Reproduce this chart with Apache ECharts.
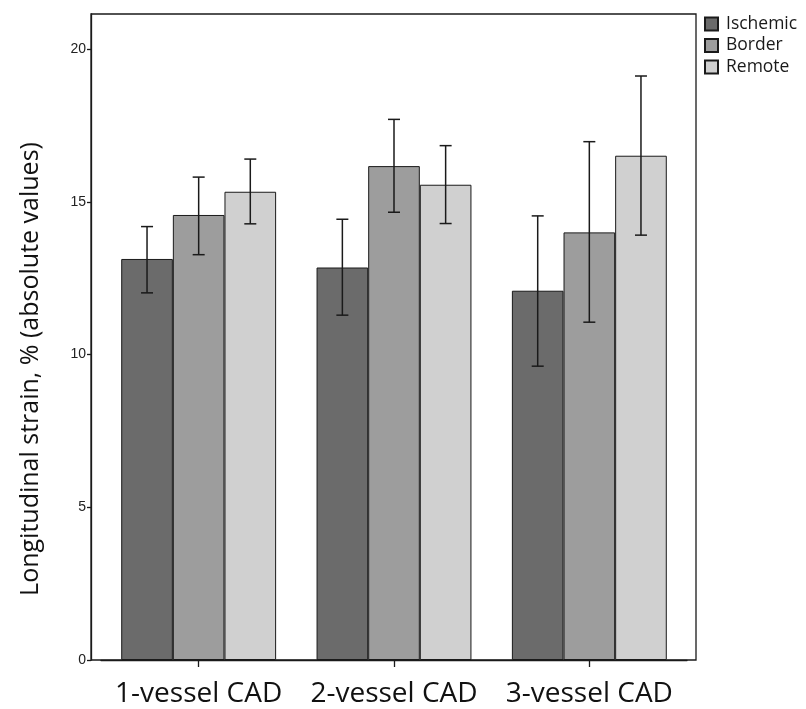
<!DOCTYPE html>
<html>
<head>
<meta charset="utf-8">
<script src="https://cdn.jsdelivr.net/npm/echarts@6/dist/echarts.min.js"></script>
<style>html,body{margin:0;padding:0;background:#fff;}#c{width:806px;height:709px;}</style>
</head>
<body>
<div id="c"></div>
<script>
var categories = ['1-vessel CAD', '2-vessel CAD', '3-vessel CAD'];
var seriesNames = ['Ischemic', 'Border', 'Remote'];
var ischemic = [13.13, 12.85, 12.09];
var border = [14.57, 16.17, 14.00];
var remote = [15.33, 15.56, 16.51];
var ischemicLow = [12.02, 11.29, 9.62];
var ischemicHigh = [14.19, 14.43, 14.54];
var borderLow = [13.27, 14.66, 11.06];
var borderHigh = [15.81, 17.70, 16.97];
var remoteLow = [14.28, 14.29, 13.91];
var remoteHigh = [16.40, 16.84, 19.12];
var yTicks = [0, 5, 10, 15, 20];
var yTitle = 'Longitudinal strain, % (absolute values)';

var colors = ['#6b6b6b', '#9d9d9d', '#d0d0d0'];
var values = [ischemic, border, remote];
var lows = [ischemicLow, borderLow, remoteLow];
var highs = [ischemicHigh, borderHigh, remoteHigh];
var gapRatio = 0.207;

var chart = echarts.init(document.getElementById('c'));
var series = [];
seriesNames.forEach(function (name, i) {
  series.push({
    name: name,
    type: 'bar',
    xAxisIndex: 1,
    yAxisIndex: 1,
    data: values[i],
    barGap: '0%',
    barCategoryGap: (gapRatio * 100) + '%',
    itemStyle: { color: colors[i], borderColor: '#1a1a1a', borderWidth: 1 },
    z: 2
  });
});
seriesNames.forEach(function (name, i) {
  series.push({
    type: 'custom',
    name: name + ' err',
    xAxisIndex: 1,
    yAxisIndex: 1,
    data: categories.map(function (c, k) { return [k, lows[i][k], highs[i][k]]; }),
    z: 5,
    silent: true,
    renderItem: function (params, api) {
      var k = api.value(0);
      var lo = api.coord([k, api.value(1)]);
      var hi = api.coord([k, api.value(2)]);
      var catW = api.size([1, 0])[0];
      var barW = catW * (1 - gapRatio) / 3;
      var x = lo[0] + (i - 1) * barW;
      var cap = 6;
      var st = { stroke: '#1a1a1a', lineWidth: 1.5 };
      return {
        type: 'group',
        children: [
          { type: 'line', shape: { x1: x, y1: lo[1], x2: x, y2: hi[1] }, style: st },
          { type: 'line', shape: { x1: x - cap, y1: lo[1], x2: x + cap, y2: lo[1] }, style: st },
          { type: 'line', shape: { x1: x - cap, y1: hi[1], x2: x + cap, y2: hi[1] }, style: st }
        ]
      };
    }
  });
});

chart.setOption({
  animation: false,
  backgroundColor: '#fff',
  textStyle: { fontFamily: 'Open Sans' },
  grid: [
    { left: 91, top: 14, right: 110, bottom: 49, show: true, borderColor: '#1a1a1a', borderWidth: 1.3, z: 0 },
    { left: 101, top: 14, right: 119, bottom: 49 }
  ],
  graphic: [{
    type: 'text',
    x: 31,
    y: 369,
    rotation: Math.PI / 2,
    style: {
      text: yTitle,
      fontSize: 25,
      fontFamily: 'Open Sans',
      fill: '#111',
      align: 'center',
      verticalAlign: 'middle'
    }
  }],
  legend: {
    data: seriesNames,
    orient: 'vertical',
    left: 699,
    top: 10,
    itemWidth: 13,
    itemHeight: 13,
    itemGap: 3.5,
    icon: 'rect',
    textStyle: { fontSize: 17.5, lineHeight: 18, color: '#1a1a1a', fontFamily: 'Open Sans', padding: [0, 0, 0, 3] }
  },
  xAxis: [
    { gridIndex: 0, type: 'value', show: false, min: 0, max: 1 },
    {
      gridIndex: 1,
      type: 'category',
      data: categories,
      axisLine: { show: true, lineStyle: { color: '#1a1a1a', width: 1.3 } },
      axisTick: { show: true, alignWithLabel: true, length: 7, lineStyle: { color: '#1a1a1a', width: 1.3 } },
      axisLabel: { interval: 0, hideOverlap: false, fontSize: 28, color: '#111', margin: 20, fontFamily: 'Open Sans' }
    }
  ],
  yAxis: [
    { gridIndex: 0, type: 'value', show: false, min: 0, max: 1 },
    {
      gridIndex: 1,
      type: 'value',
      min: 0,
      max: 21.15,
      interval: 5,
      offset: 10,
      splitLine: { show: false },
      axisLine: { show: true, lineStyle: { color: '#1a1a1a', width: 1.3 } },
      axisTick: { show: true, length: 4, lineStyle: { color: '#1a1a1a', width: 1.3 } },
      axisLabel: {
        fontSize: 14, color: '#222', margin: 5, fontFamily: 'Liberation Sans', showMaxLabel: false,
        formatter: function (v) { return yTicks.indexOf(v) >= 0 ? String(v) : ''; }
      }
    }
  ],
  series: series
});
</script>
</body>
</html>
